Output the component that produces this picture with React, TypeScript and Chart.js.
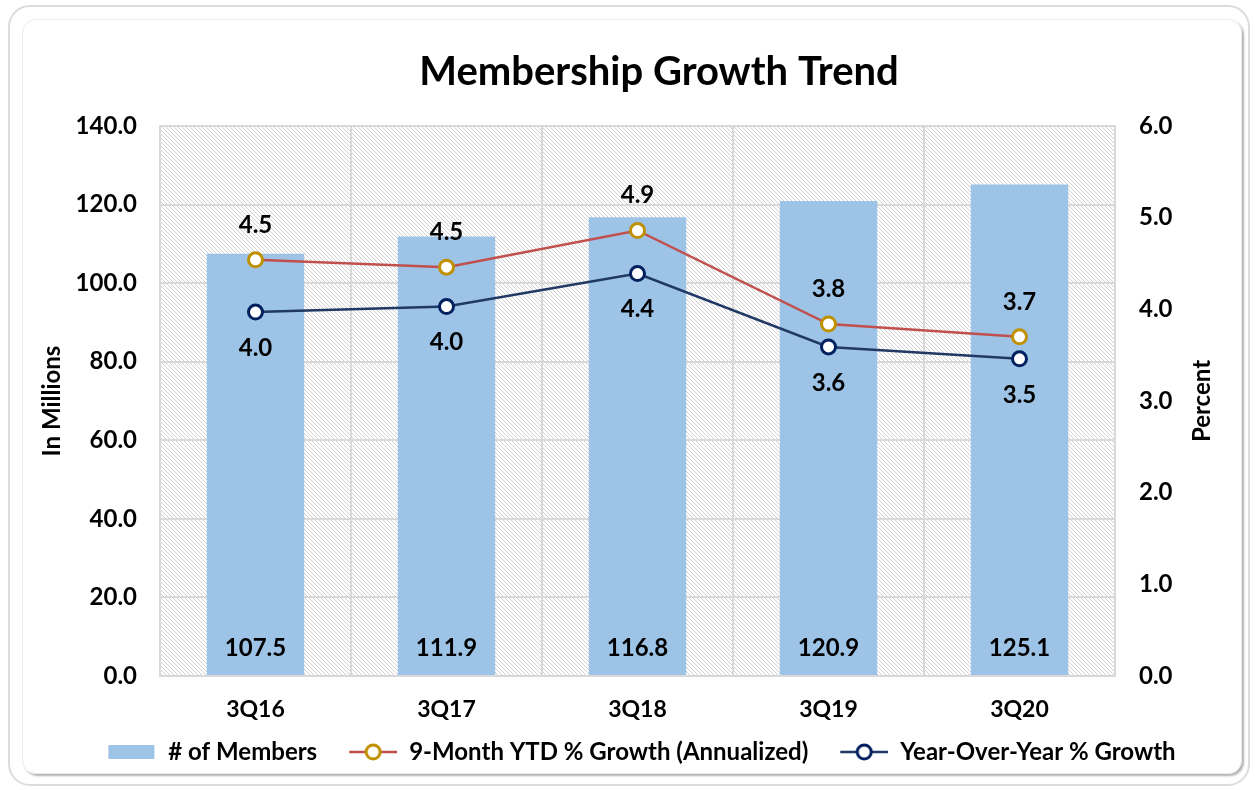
import React, { useEffect, useRef } from "react";
import { Chart, registerables } from "chart.js";

Chart.register(...registerables);

const categories = ["3Q16", "3Q17", "3Q18", "3Q19", "3Q20"];
const members = [107.5, 111.9, 116.8, 120.9, 125.1];
const ytdGrowth = [4.54, 4.46, 4.86, 3.84, 3.7];
const yoyGrowth = [3.97, 4.03, 4.39, 3.59, 3.46];
const seriesNames = ["# of Members", "9-Month YTD % Growth (Annualized)", "Year-Over-Year % Growth"];
const leftAxisTitle = "In Millions";
const rightAxisTitle = "Percent";
const chartTitle = "Membership Growth Trend";

const FONT = "Lato, 'Open Sans', sans-serif";
const BAR_COLOR = "#9DC3E6";
const YTD_LINE = "#C0504D";
const YTD_MARK = "#BF9000";
const YOY_LINE = "#1F3864";
const YOY_MARK = "#002060";
const GRID = "#D9D9D9";

function makePattern(ctx: CanvasRenderingContext2D) {
  const c = document.createElement("canvas");
  c.width = 4;
  c.height = 4;
  const p = c.getContext("2d")!;
  p.fillStyle = "#ffffff";
  p.fillRect(0, 0, 4, 4);
  p.fillStyle = "#d0d0d0";
  for (let i = 0; i < 4; i++) p.fillRect(i, i, 1, 1);
  return ctx.createPattern(c, "repeat");
}

function lineIcon(line: string, mark: string) {
  const c = document.createElement("canvas");
  c.width = 70;
  c.height = 22;
  const p = c.getContext("2d")!;
  p.strokeStyle = line;
  p.lineWidth = 2.5;
  p.beginPath();
  p.moveTo(22, 11);
  p.lineTo(70, 11);
  p.stroke();
  p.beginPath();
  p.arc(46, 11, 7, 0, Math.PI * 2);
  p.fillStyle = "#fff";
  p.fill();
  p.lineWidth = 3;
  p.strokeStyle = mark;
  p.stroke();
  return c;
}

function barIcon() {
  const c = document.createElement("canvas");
  c.width = 70;
  c.height = 22;
  const p = c.getContext("2d")!;
  p.fillStyle = BAR_COLOR;
  p.fillRect(22, 4, 46, 14);
  return c;
}

const bgPlugin = {
  id: "bgHatch",
  beforeDraw(chart: any) {
    const { ctx, chartArea } = chart;
    ctx.save();
    ctx.fillStyle = makePattern(ctx) as any;
    ctx.fillRect(chartArea.left, chartArea.top, chartArea.right - chartArea.left, chartArea.bottom - chartArea.top);
    ctx.restore();
  },
};

const labelPlugin = {
  id: "valueLabels",
  afterDatasetsDraw(chart: any) {
    const { ctx } = chart;
    ctx.save();
    ctx.font = `bold 24px ${FONT}`;
    ctx.fillStyle = "#000";
    ctx.textAlign = "center";
    ctx.textBaseline = "middle";
    const base = chart.scales.y.getPixelForValue(0);
    chart.getDatasetMeta(0).data.forEach((el: any, i: number) => {
      ctx.fillText(members[i].toFixed(1), el.x, base - 28);
    });
    chart.getDatasetMeta(1).data.forEach((el: any, i: number) => {
      ctx.fillText(ytdGrowth[i].toFixed(1), el.x, el.y - 35);
    });
    chart.getDatasetMeta(2).data.forEach((el: any, i: number) => {
      ctx.fillText(yoyGrowth[i].toFixed(1), el.x, el.y + 36);
    });
    ctx.restore();
  },
  afterDraw(chart: any) {
    const { ctx, chartArea } = chart;
    const mid = (chartArea.top + chartArea.bottom) / 2;
    // chart title, drawn slightly right of centre as in the reference
    ctx.save();
    ctx.font = `bold 40px ${FONT}`;
    ctx.fillStyle = "#000";
    ctx.textAlign = "center";
    ctx.textBaseline = "middle";
    ctx.fillText(chartTitle, 636, 52);
    ctx.restore();

    ctx.save();
    ctx.font = `bold 24px ${FONT}`;
    ctx.fillStyle = "#000";
    ctx.textAlign = "center";
    ctx.textBaseline = "middle";
    ctx.translate(29, mid);
    ctx.rotate(-Math.PI / 2);
    ctx.fillText(leftAxisTitle, 0, 0);
    ctx.restore();
    ctx.save();
    ctx.font = `bold 24px ${FONT}`;
    ctx.fillStyle = "#000";
    ctx.textAlign = "center";
    ctx.textBaseline = "middle";
    ctx.translate(1179, mid);
    ctx.rotate(-Math.PI / 2);
    ctx.fillText(rightAxisTitle, 0, 0);
    ctx.restore();
  },
};

export default function App() {
  const ref = useRef<HTMLCanvasElement>(null);
  useEffect(() => {
    const icons = [barIcon(), lineIcon(YTD_LINE, YTD_MARK), lineIcon(YOY_LINE, YOY_MARK)];
    const chart = new Chart(ref.current!, {
      type: "bar",
      data: {
        labels: categories,
        datasets: [
          {
            type: "bar",
            label: seriesNames[0],
            data: members,
            backgroundColor: BAR_COLOR,
            yAxisID: "y",
            barPercentage: 1,
            categoryPercentage: 0.51,
            order: 3,
          },
          {
            type: "line",
            label: seriesNames[1],
            data: ytdGrowth,
            borderColor: YTD_LINE,
            borderWidth: 2.5,
            pointRadius: 7,
            pointBorderWidth: 3,
            pointBorderColor: YTD_MARK,
            pointBackgroundColor: "#fff",
            yAxisID: "y1",
            order: 2,
          },
          {
            type: "line",
            label: seriesNames[2],
            data: yoyGrowth,
            borderColor: YOY_LINE,
            borderWidth: 2.5,
            pointRadius: 7,
            pointBorderWidth: 3,
            pointBorderColor: YOY_MARK,
            pointBackgroundColor: "#fff",
            yAxisID: "y1",
            order: 1,
          },
        ] as any,
      },
      options: {
        responsive: false,
        animation: false,
        devicePixelRatio: 1,
        layout: { padding: { bottom: 0, left: 0, right: 0, top: 0 } },
        plugins: {
          tooltip: { enabled: false },
          title: {
            display: true,
            text: chartTitle,
            color: "rgba(0,0,0,0)",
            font: { family: FONT, size: 40, weight: "bold" },
            padding: { top: 28, bottom: 30 },
          },
          legend: {
            position: "bottom",
            labels: {
              usePointStyle: true,
              pointStyleWidth: 70,
              boxHeight: 20,
              padding: 10,
              color: "#000",
              font: { family: FONT, size: 24, weight: "bold" },
              generateLabels: () =>
                seriesNames.map((t, i) => ({
                  text: t,
                  pointStyle: icons[i] as any,
                  fillStyle: "transparent",
                  strokeStyle: "transparent",
                  lineWidth: 0,
                  hidden: false,
                  datasetIndex: i,
                })),
            },
          },
        },
        scales: {
          x: {
            grid: { color: GRID, lineWidth: 2, offset: true, drawTicks: false },
            border: { color: GRID, width: 2 },
            ticks: { color: "#000", padding: 20, font: { family: FONT, size: 23, weight: "bold" } },
            afterFit: (s: any) => {
              s.height = 54;
            },
          },
          y: {
            position: "left",
            min: 0,
            max: 140,
            grid: { color: GRID, lineWidth: 2, drawTicks: false },
            border: { color: GRID, width: 2 },
            ticks: {
              stepSize: 20,
              color: "#000",
              padding: 23,
              font: { family: FONT, size: 24, weight: "bold" },
              callback: (v: any) => Number(v).toFixed(1),
            },
            afterFit: (s: any) => {
              s.width = 137;
            },
          },
          y1: {
            position: "right",
            min: 0,
            max: 6,
            grid: { display: false, drawTicks: false },
            border: { color: GRID, width: 2 },
            ticks: {
              stepSize: 1,
              color: "#000",
              padding: 24,
              font: { family: FONT, size: 24, weight: "bold" },
              callback: (v: any) => Number(v).toFixed(1),
            },
            afterFit: (s: any) => {
              s.width = 124;
            },
          },
        },
      } as any,
      plugins: [bgPlugin, labelPlugin],
    });
    return () => chart.destroy();
  }, []);

  return (
    <div style={{ position: "fixed", left: 0, top: 0, width: 1255, height: 790, background: "#fff" }}>
      <div
        style={{
          position: "absolute",
          left: 8,
          top: 5,
          width: 1242,
          height: 781,
          boxSizing: "border-box",
          border: "2px solid #dcdcdc",
          borderRadius: 22,
        }}
      />
      <div
        style={{
          position: "absolute",
          left: 22,
          top: 19,
          width: 1220,
          height: 755,
          boxSizing: "border-box",
          border: "1px solid #ececec",
          borderRadius: 14,
          boxShadow: "2px 2px 2px rgba(0,0,0,0.3)",
        }}
      />
      <canvas
        ref={ref}
        width={1216}
        height={754}
        style={{ position: "absolute", left: 23, top: 20, width: 1216, height: 754 }}
      />
    </div>
  );
}
